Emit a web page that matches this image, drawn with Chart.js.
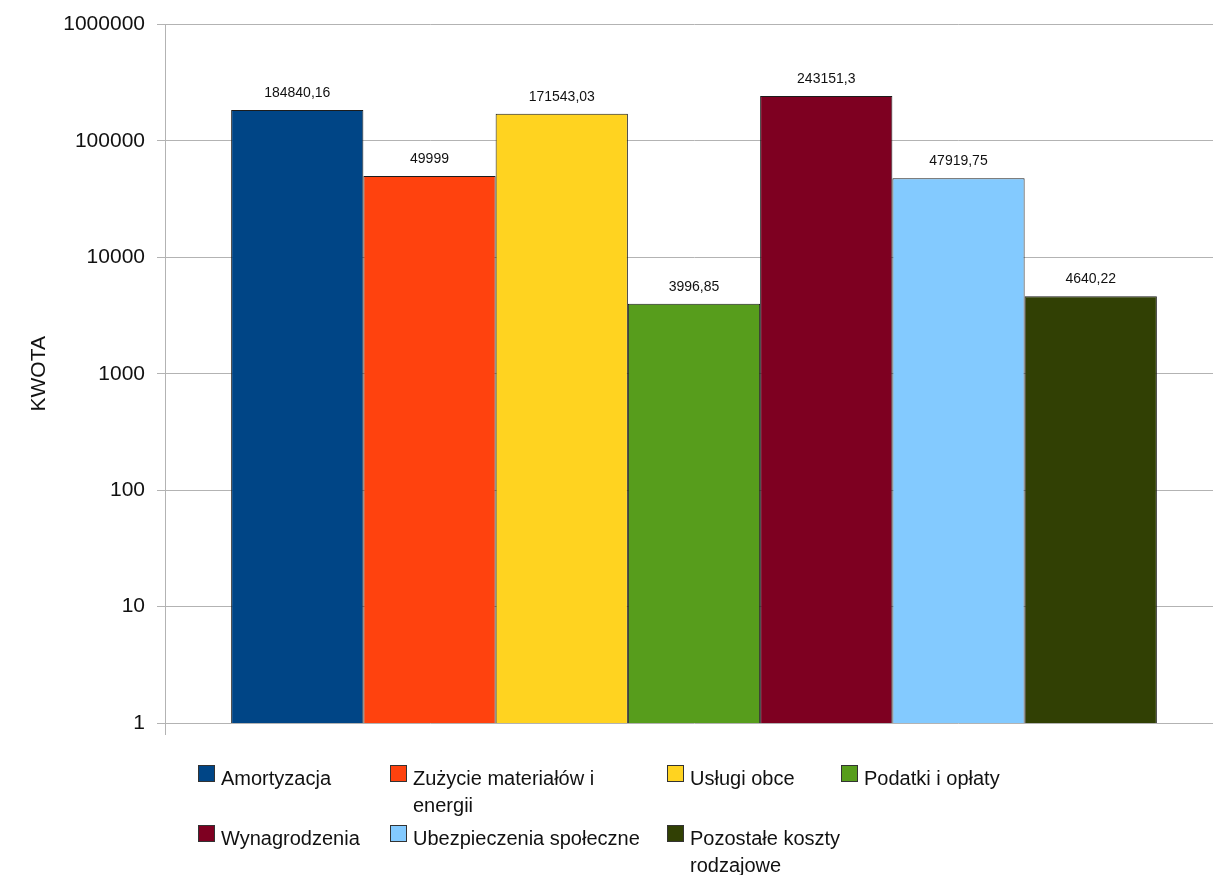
<!DOCTYPE html>
<html><head><meta charset="utf-8">
<script src="https://cdn.jsdelivr.net/npm/chart.js@4"></script>
<style>html,body{margin:0;padding:0;overflow:hidden;background:#fff}#wrap{width:1223px;height:875px;position:relative}</style>
</head><body><div id="wrap"><canvas id="c"></canvas></div>
<script>
const categories = ['Amortyzacja','Zużycie materiałów i energii','Usługi obce','Podatki i opłaty','Wynagrodzenia','Ubezpieczenia społeczne','Pozostałe koszty rodzajowe'];
const values = [184840.16, 49999, 171543.03, 3996.85, 243151.3, 47919.75, 4640.22];
const colors = ['#004586','#ff420e','#ffd320','#579d1c','#7e0021','#83caff','#314004'];
const yTicks = [1, 10, 100, 1000, 10000, 100000, 1000000];
const yTitle = 'KWOTA';

const FAMILY = '"Liberation Sans", Arial, sans-serif';
Chart.defaults.font.family = FAMILY;

const valueLabels = {
  id: 'valueLabels',
  afterDatasetsDraw(chart) {
    const ctx = chart.ctx;
    ctx.save();
    ctx.font = '14px ' + FAMILY;
    ctx.fillStyle = '#111';
    ctx.textAlign = 'center';
    ctx.textBaseline = 'bottom';
    chart.data.datasets.forEach((ds, i) => {
      const bar = chart.getDatasetMeta(i).data[0];
      ctx.fillText(String(ds.data[0]).replace('.', ','), bar.x, bar.y - 10);
    });
    ctx.restore();
  }
};

const customLegend = {
  id: 'customLegend',
  afterDraw(chart) {
    const ctx = chart.ctx;
    const cols = [198, 390, 667, 841];
    const rows = [785, 845];
    const lineH = 27;
    const maxW = 236;
    ctx.save();
    ctx.font = '20px ' + FAMILY;
    ctx.textBaseline = 'alphabetic';
    ctx.textAlign = 'left';
    chart.data.datasets.forEach((ds, i) => {
      const x = cols[i % 4], y = rows[Math.floor(i / 4)];
      ctx.fillStyle = ds.backgroundColor;
      ctx.fillRect(x + 0.5, y - 19.5, 16, 16);
      ctx.strokeStyle = '#333';
      ctx.lineWidth = 1;
      ctx.strokeRect(x + 0.5, y - 19.5, 16, 16);
      const words = ds.label.split(' ');
      const lines = [];
      let cur = '';
      words.forEach(w => {
        const t = cur ? cur + ' ' + w : w;
        if (ctx.measureText(t).width > maxW && cur) { lines.push(cur); cur = w; } else cur = t;
      });
      if (cur) lines.push(cur);
      ctx.fillStyle = '#111';
      lines.forEach((l, k) => ctx.fillText(l, x + 23, y + k * lineH));
    });
    ctx.restore();
  }
};

new Chart(document.getElementById('c'), {
  type: 'bar',
  data: {
    labels: [''],
    datasets: categories.map((c, i) => ({
      label: c,
      data: [values[i]],
      backgroundColor: colors[i],
      borderColor: '#1c1c1c',
      borderWidth: 1,
      categoryPercentage: 0.875,
      barPercentage: 1
    }))
  },
  options: {
    responsive: true,
    maintainAspectRatio: false,
    animation: false,
    layout: { padding: { top: 23, left: 0, right: 0, bottom: 0 } },
    plugins: { legend: { display: false }, tooltip: { enabled: false } },
    scales: {
      x: {
        offset: true,
        ticks: { display: false },
        grid: { drawOnChartArea: false, tickLength: 12, color: '#b3b3b3', offset: true },
        border: { display: false },
        afterFit: s => { s.height = 152; }
      },
      y: {
        type: 'logarithmic',
        min: yTicks[0],
        max: yTicks[yTicks.length - 1],
        afterBuildTicks: s => { s.ticks = yTicks.map(v => ({ value: v })); },
        afterFit: s => { s.width = 165; },
        ticks: { callback: v => String(v), font: { size: 21 }, color: '#111', padding: 12 },
        grid: { color: '#b3b3b3', tickLength: 8 },
        border: { color: '#b3b3b3' },
        title: { display: true, text: yTitle, font: { size: 21 }, color: '#111', padding: { top: 27, bottom: 0 } }
      }
    }
  },
  plugins: [valueLabels, customLegend]
});
</script></body></html>
